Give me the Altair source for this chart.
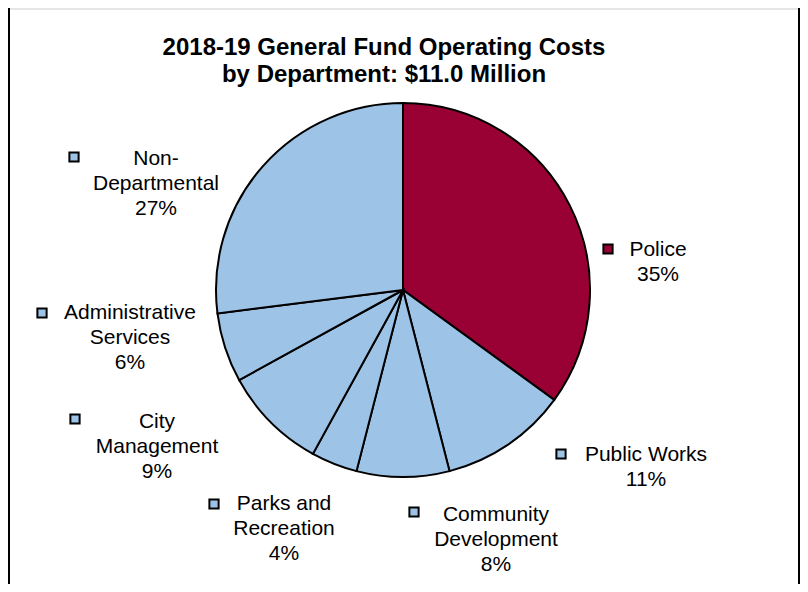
import altair as alt
import pandas as pd

# ---- data ----
departments = ["Police", "Public Works", "Community Development",
               "Parks and Recreation", "City Management",
               "Administrative Services", "Non-Departmental"]
shares = [35, 11, 8, 4, 9, 6, 27]
label_lines = ["Police", "Public Works", "Community\nDevelopment",
               "Parks and\nRecreation", "City\nManagement",
               "Administrative\nServices", "Non-\nDepartmental"]
slice_colors = ["#990033", "#9DC3E6", "#9DC3E6", "#9DC3E6",
                "#9DC3E6", "#9DC3E6", "#9DC3E6"]
title_lines = ["2018-19 General Fund Operating Costs",
               "by  Department: $11.0 Million"]

# ---- layout (canvas pixels) ----
label_x = [650, 638, 488, 276, 149, 122, 148]
label_y = [242, 447, 507, 496, 414, 305, 151]
marker_x = [600, 553, 406, 206, 67, 34, 66]
marker_y = [241, 446, 504, 496, 411, 305, 149]
W, H = 792, 576
CX, CY, R = 395, 282, 187

df = pd.DataFrame({
    "dept": departments,
    "share": shares,
    "idx": list(range(len(departments))),
    "label": [f"{l}\n{s}%" for l, s in zip(label_lines, shares)],
    "lx": label_x, "ly": label_y,
    "mx": marker_x, "my": marker_y,
})

color_scale = alt.Scale(domain=departments, range=slice_colors)

pie = alt.Chart(df).mark_arc(outerRadius=R, stroke="black", strokeWidth=2).encode(
    theta=alt.Theta("share:Q", stack=True),
    order=alt.Order("idx:Q"),
    fill=alt.Fill("dept:N", scale=color_scale, legend=None),
    x=alt.value(CX),
    y=alt.value(CY),
)

labels = alt.Chart(df).mark_text(
    font="Liberation Sans", fontSize=21, lineBreak="\n", lineHeight=25,
    align="center", baseline="middle", color="black"
).encode(
    x=alt.X("lx:Q", scale=None),
    y=alt.Y("ly:Q", scale=None),
    text="label:N",
)

markers = alt.Chart(df).mark_square(
    size=85, stroke="black", strokeWidth=2, opacity=1
).encode(
    x=alt.X("mx:Q", scale=None),
    y=alt.Y("my:Q", scale=None),
    fill=alt.Fill("dept:N", scale=color_scale, legend=None),
)

title = alt.Chart(pd.DataFrame({"t": ["\n".join(title_lines)]})).mark_text(
    font="Liberation Sans", fontSize=24, fontWeight="bold", lineBreak="\n",
    lineHeight=27, align="center", baseline="middle", color="black"
).encode(x=alt.value(376), y=alt.value(40), text="t:N")

border_left = alt.Chart(df).mark_rule(color="black", strokeWidth=2).encode(
    x=alt.value(1), y=alt.value(0), y2=alt.value(H))
border_right = alt.Chart(df).mark_rule(color="black", strokeWidth=2).encode(
    x=alt.value(W - 1), y=alt.value(0), y2=alt.value(H))
border_top = alt.Chart(df).mark_rule(color="#E6E6E6", strokeWidth=2).encode(
    x=alt.value(0), x2=alt.value(W), y=alt.value(1))

chart = alt.layer(
    border_top, border_left, border_right, pie, markers, labels, title
).properties(
    width=W, height=H, padding=0, autosize=alt.AutoSizeParams(type="none"),
    background="white",
).configure_view(stroke=None)

chart.save("out.html", embed_options={"renderer": "svg", "actions": False})
